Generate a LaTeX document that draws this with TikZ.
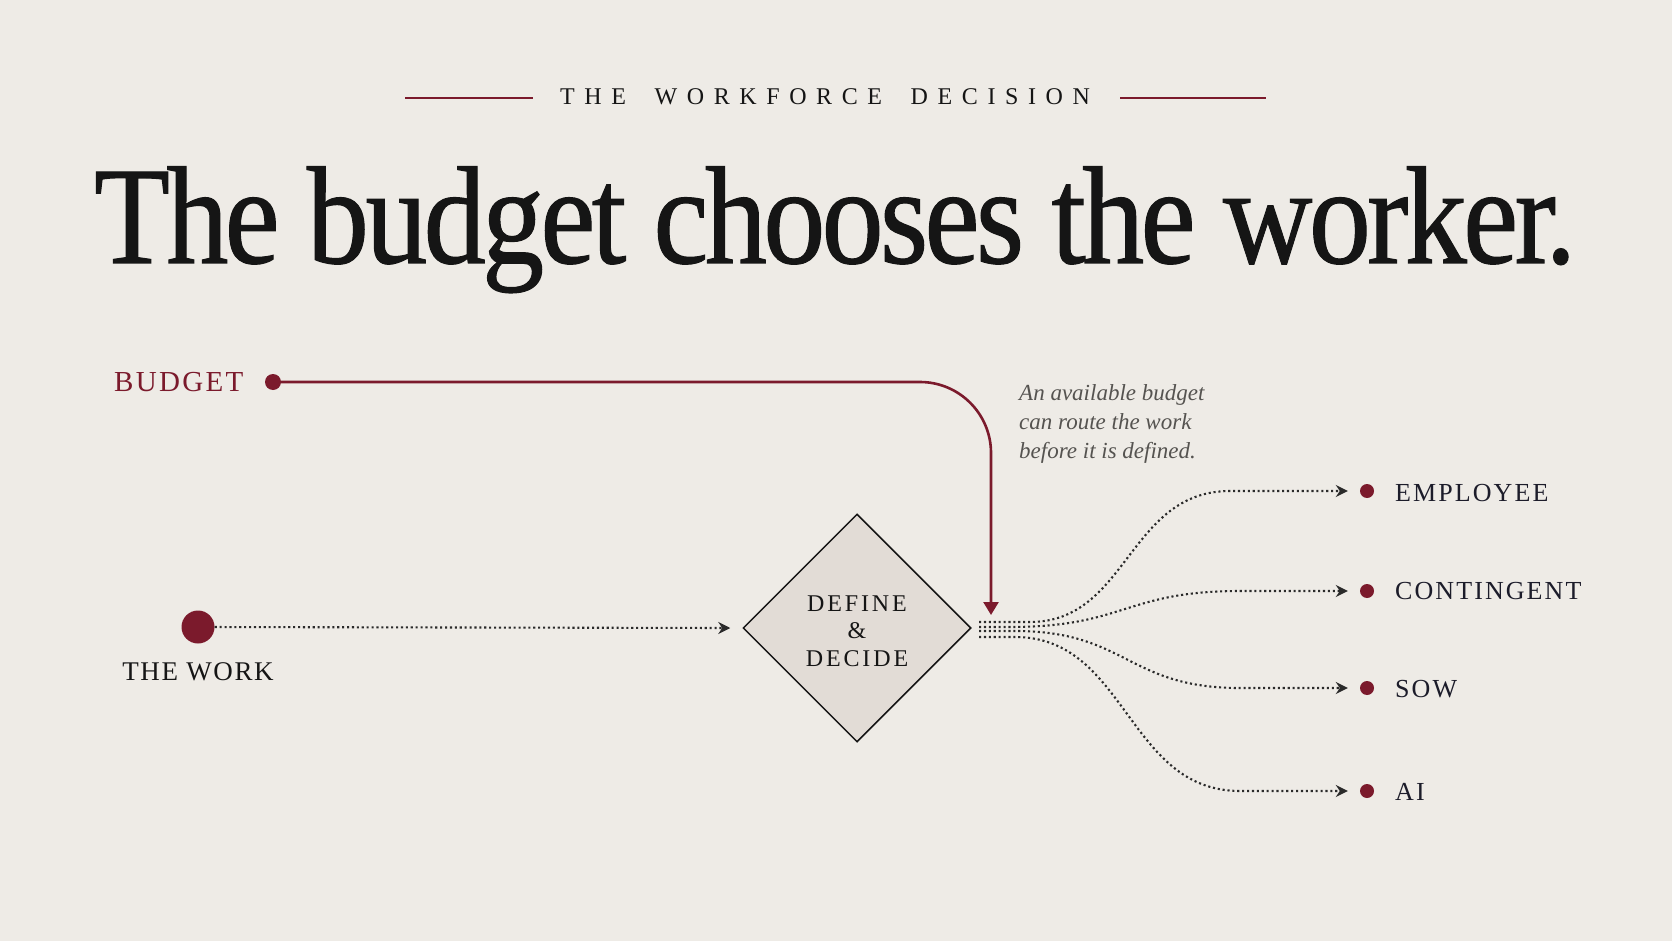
\documentclass[tikz,border=0pt]{standalone}
\usepackage{graphicx}
\usepackage{fontspec}
\setmainfont{Liberation Serif}
\usetikzlibrary{arrows.meta,shapes.geometric,calc}
\definecolor{paper}{HTML}{EEEBE6}
\definecolor{wine}{HTML}{7B1A2C}
\definecolor{ink}{HTML}{151515}
\definecolor{navy}{HTML}{1C1C2A}
\definecolor{notegray}{HTML}{555350}
\definecolor{dfill}{HTML}{E2DCD6}
\definecolor{dotgray}{HTML}{2A2A2A}
\begin{document}
\begin{tikzpicture}[x=1pt,y=-1pt,
  dotline/.style={draw=dotgray, line width=2.1pt, dash pattern=on 2.1pt off 2.8pt,
    -{Stealth[length=12pt,width=12pt,inset=4pt]}},
  rule/.style={draw=wine, line width=2pt},
  reddot/.style={circle, fill=wine, inner sep=0pt},
  caplabel/.style={inner sep=0pt, font=\fontsize{26}{30}\selectfont\addfontfeature{LetterSpace=8}, text=navy, anchor=base west},
]
\useasboundingbox[fill=paper] (0,0) rectangle (1672,941);

% header
\node[anchor=base west, inner sep=0pt, text=ink,
  font=\fontsize{24}{28}\selectfont\addfontfeature{LetterSpace=40}] (head) at (560,105)
  {THE\hspace{13pt} WORKFORCE\hspace{13pt} DECISION};
\coordinate (hl1) at (405,98); \coordinate (hl2) at (533,98);
\coordinate (hr1) at (1120,98); \coordinate (hr2) at (1266,98);
\draw[rule] (hl1) -- (hl2);
\draw[rule] (hr1) -- (hr2);

% title
\node[anchor=base west, inner sep=0pt, text=ink] (title) at (94,263)
  {\resizebox{1482pt}{\height}{\fontsize{139}{145}\selectfont\addfontfeature{LetterSpace=-3,FakeBold=0.8}The budget chooses the worker.}};

% budget
\node[anchor=base west, inner sep=0pt, text=wine,
  font=\fontsize{29}{32}\selectfont\addfontfeature{LetterSpace=8}] (budget) at (114,391.5) {BUDGET};
\node[reddot, minimum size=16pt] (bdot) at (273,382) {};

% the work
\node[reddot, minimum size=33pt] (wdot) at (198,627) {};
\node[anchor=base, inner sep=0pt, text=ink,
  font=\fontsize{27}{30}\selectfont\addfontfeature{LetterSpace=6}] (work) at (198,680) {THE WORK};

% diamond
\node[diamond, aspect=1, draw=ink, line width=1.5pt, fill=dfill, minimum width=228pt, minimum height=228pt,
  inner sep=0pt, align=center, text=ink,
  font=\fontsize{24}{27.5}\selectfont\addfontfeature{LetterSpace=12}] (dia) at (857,628)
  {\rule{0pt}{22pt}DEFINE\\\&\\DECIDE};

% note
\node[anchor=north west, inner sep=0pt, align=left, text=notegray,
  font=\fontsize{23}{29}\selectfont\itshape] (note) at (1019,384)
  {An available budget\\can route the work\\before it is defined.};

% outcomes
\node[reddot, minimum size=14pt] (e1) at (1367,491) {};
\node[reddot, minimum size=14pt] (e2) at (1367,591) {};
\node[reddot, minimum size=14pt] (e3) at (1367,688) {};
\node[reddot, minimum size=14pt] (e4) at (1367,791) {};
\node[caplabel] (l1) at (1395,501) {EMPLOYEE};
\node[caplabel] (l2) at (1395,599) {CONTINGENT};
\node[caplabel] (l3) at (1395,697) {SOW};
\node[caplabel] (l4) at (1395,800) {AI};

% budget connector
\coordinate (bcorner) at (991,382);
\coordinate (btip) at (991,615);
\draw[wine, line width=2.6pt, rounded corners=71pt, -{Triangle[length=13pt,width=15pt]}]
  (bdot) -- (bcorner) -- (btip);

% work connector
\draw[dotline] (wdot) -- ([xshift=-12pt]dia.west);

% outgoing connectors
\coordinate (s1) at (979,622);
\coordinate (s2) at (979,627);
\coordinate (s3) at (979,631);
\coordinate (s4) at (979,637);
\draw[dotline] (s1) -- (1030,622) .. controls (1128,622) and (1128,491) .. (1230,491) -- ([xshift=-12pt]e1.west);
\draw[dotline] (s2) -- (1010,627) .. controls (1125,627) and (1125,591) .. (1240,591) -- ([xshift=-12pt]e2.west);
\draw[dotline] (s3) -- (1015,631) .. controls (1127,631) and (1127,688) .. (1240,688) -- ([xshift=-12pt]e3.west);
\draw[dotline] (s4) -- (1015,637) .. controls (1127,637) and (1127,791) .. (1240,791) -- ([xshift=-12pt]e4.west);
\end{tikzpicture}
\end{document}
